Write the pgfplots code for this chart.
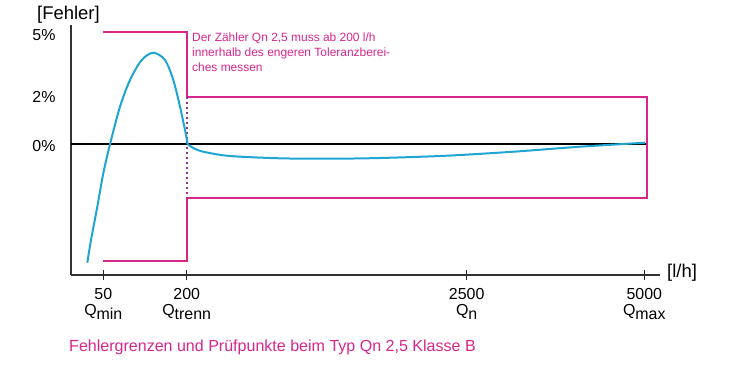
\documentclass[border=0pt]{standalone}
\usepackage{pgfplots}
\pgfplotsset{compat=1.18}
\usepackage{fontspec}
\setmainfont{Liberation Sans}
\definecolor{mpink}{RGB}{214,38,140}
\definecolor{cblue}{RGB}{30,165,212}
\definecolor{dotc}{RGB}{150,50,140}
\begin{document}
\begin{tikzpicture}[x=1bp,y=1bp]
\useasboundingbox (0,0) rectangle (750,-369);
\begin{axis}[
  scale only axis, width=589bp, height=250bp,
  at={(71bp,-275bp)}, anchor=south west,
  xmin=71, xmax=660, ymin=-130.7, ymax=119.3,
  axis x line=bottom, axis y line=left,
  axis line style={-, line width=1.2bp, black!80},
  clip=false, unbounded coords=jump,
  xtick={103.3,186.7,466.7,644.3},
  xticklabels={{50\\Q\raisebox{-4bp}{min}},{200\\Q\raisebox{-4bp}{trenn}},{2500\\Q\raisebox{-4bp}{n}},{5000\\Q\raisebox{-4bp}{max}}},
  xticklabel style={align=center, font=\fontsize{16}{16}\selectfont, yshift=-5bp},
  ytick={109.3,47.3,-1.7}, yticklabels={5\%,2\%,0\%},
  yticklabel style={font=\fontsize{16}{18}\selectfont, xshift=-12bp},
  xtick align=center, ytick align=inside,
  major tick length=10bp,
  xtick style={black, line width=1.4bp},
  ytick style={opacity=0},
  /pgf/number format/assume math mode=true,
]
% tick marks on the flow axis
\addplot[black!85, line width=1.4bp, forget plot] coordinates {(103.3,-125.7) (103.3,-135.2) (nan,nan) (186.7,-125.7) (186.7,-135.2) (nan,nan) (466.7,-125.7) (466.7,-135.2) (nan,nan) (644.3,-125.7) (644.3,-135.2)};
\addplot[black, line width=1.8bp] coordinates {(71,0) (647,0)};
\addplot[mpink, line width=2bp, line join=miter] coordinates {(103,112) (187,112) (187,47) (647,47) (647,-54) (187,-54) (187,-117) (103,-117)};
\addplot[dotc, line width=1.3bp, dash pattern=on 1.3bp off 3.7bp] coordinates {(187,47) (187,-54)};
\addplot[cblue, line width=2bp, smooth] coordinates {(87.3,-118.4) (91,-95.7) (97.3,-62.4) (103.3,-29) (110,0) (120,37.6) (130,64.3) (141.7,84.3) (153.3,91.6) (165,84.3) (173.3,64.3) (180,37.6) (185,14.3) (187.7,0)};
\addplot[cblue, line width=2bp, smooth] coordinates {(187.7,0) (195,-4.6) (205,-7.8) (230,-11.7) (280,-14) (330,-14.4) (380,-13.7) (446.7,-11.4) (513.3,-7.4) (580,-2.4) (645,1.6)};
\end{axis}
\node[anchor=west, inner sep=0, font=\fontsize{18.5}{20}\selectfont] at (667,-273) {[l/h]};
\node[anchor=west, inner sep=0, font=\fontsize{18.5}{20}\selectfont] at (37,-15) {[Fehler]};
\node[anchor=north west, align=left, inner sep=0, text=mpink, font=\fontsize{12}{14.7}\selectfont] at (192,-33) {Der Zähler Qn 2,5 muss ab 200 l/h\\innerhalb des engeren Toleranzberei-\\ches messen};
\node[anchor=west, inner sep=0, text=mpink, font=\fontsize{16.1}{18}\selectfont] at (69,-347) {Fehlergrenzen und Prüfpunkte beim Typ Qn 2,5 Klasse B};
\end{tikzpicture}
\end{document}
